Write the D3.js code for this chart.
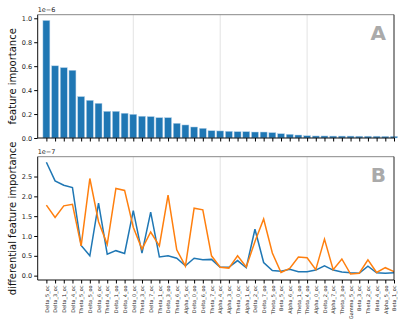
<!DOCTYPE html>
<html><head><meta charset="utf-8">
<script src="https://cdn.jsdelivr.net/npm/d3@7"></script>
<style>body{margin:0;background:#fff}svg{display:block}text{font-family:"DejaVu Sans",sans-serif}</style>
</head><body>
<svg id="c" width="404" height="329"></svg>
<script>
const categories = ["Delta_5_oc","Delta_3_oc","Delta_1_oc","Delta_4_oc","Theta_5_oc","Delta_5_oo","Delta_6_oc","Theta_4_oc","Delta_1_oo","Delta_4_oo","Delta_0_oc","Theta_3_oc","Delta_7_oc","Theta_1_oc","Delta_3_oo","Theta_6_oc","Alpha_5_oc","Delta_0_oo","Delta_6_oo","Theta_7_oc","Alpha_4_oc","Alpha_3_oc","Theta_0_oc","Alpha_1_oc","Delta_2_oc","Delta_7_oo","Theta_5_oo","Beta_5_oc","Alpha_6_oc","Theta_1_oo","Theta_4_oo","Alpha_0_oc","Delta_2_oo","Alpha_7_oc","Theta_3_oo","Gamma_5_oc","Beta_3_oc","Theta_2_oc","Beta_4_oc","Alpha_5_oo","Beta_1_oc"];
// feature importance (x 1e-6)
const importance = [0.982,0.603,0.588,0.566,0.346,0.315,0.290,0.223,0.223,0.207,0.198,0.182,0.179,0.170,0.170,0.123,0.109,0.092,0.081,0.061,0.059,0.056,0.053,0.053,0.050,0.050,0.045,0.036,0.031,0.025,0.019,0.017,0.017,0.016,0.016,0.016,0.015,0.015,0.015,0.014,0.014];
// differential feature importance (x 1e-7)
const diffBlue = [2.86,2.39,2.28,2.22,0.76,0.50,1.83,0.54,0.63,0.56,1.64,0.57,1.60,0.47,0.50,0.44,0.25,0.44,0.40,0.41,0.21,0.21,0.38,0.20,1.17,0.33,0.13,0.11,0.16,0.10,0.10,0.14,0.25,0.14,0.09,0.07,0.06,0.24,0.07,0.06,0.07];
const diffOrange = [1.78,1.47,1.76,1.80,0.75,2.45,1.36,0.79,2.20,2.15,1.22,0.67,1.10,0.75,2.03,0.65,0.24,1.70,1.66,0.50,0.21,0.19,0.50,0.22,0.86,1.43,0.57,0.08,0.18,0.47,0.45,0.15,0.92,0.15,0.42,0.04,0.06,0.40,0.08,0.20,0.10];
const topTicks = [0.0,0.2,0.4,0.6,0.8,1.0];
const botTicks = [0.0,0.5,1.0,1.5,2.0,2.5];
const gridIdx = [10,20,30];

const svg = d3.select("#c");
const L = 37.7, R = 394;
const x = d3.scaleLinear().domain([-1, 40]).range([L, R]);
const idx = d3.range(categories.length);

const panels = [
  {top:14.7, bot:138, y:d3.scaleLinear().domain([0,1.03]).range([138,14.7]), ticks:topTicks, fmt:d3.format(".1f"), off:"1e\u22126", letter:"A", label:"feature importance"},
  {top:156.7, bot:280, y:d3.scaleLinear().domain([-0.11,3.0]).range([280,156.7]), ticks:botTicks, fmt:d3.format(".1f"), off:"1e\u22127", letter:"B", label:"differential feature importance"}
];

panels.forEach((p,pi)=>{
  const g = svg.append("g");
  g.selectAll(".grid").data(gridIdx).join("line")
    .attr("x1",d=>x(d)).attr("x2",d=>x(d)).attr("y1",p.top).attr("y2",p.bot)
    .attr("stroke","#dcdcdc").attr("stroke-width",0.8);
  if(pi===0){
    g.selectAll("rect").data(idx).join("rect")
      .attr("x",i=>x(i-0.4)).attr("width",x(0.8)-x(0))
      .attr("y",i=>p.y(importance[i])).attr("height",i=>p.y(0)-p.y(importance[i]))
      .attr("fill","#1f77b4").attr("stroke","#b8d3ea").attr("stroke-width",0.5);
  } else {
    const line = d3.line().x((d,i)=>x(i)).y(d=>p.y(d));
    g.append("path").datum(diffBlue).attr("d",line).attr("fill","none").attr("stroke","#1f77b4").attr("stroke-width",1.5);
    g.append("path").datum(diffOrange).attr("d",line).attr("fill","none").attr("stroke","#ff7f0e").attr("stroke-width",1.5);
  }
  g.append("line").attr("x1",L).attr("x2",R).attr("y1",p.top).attr("y2",p.top).attr("stroke","#888").attr("stroke-width",1);
  g.append("line").attr("x1",R).attr("x2",R).attr("y1",p.top).attr("y2",p.bot).attr("stroke","#222").attr("stroke-width",1);
  const yAxis = d3.axisLeft(p.y).tickValues(p.ticks).tickFormat(p.fmt).tickSize(3.5).tickPadding(2);
  const ya = g.append("g").attr("transform",`translate(${L},0)`).call(yAxis);
  ya.select(".domain").attr("d",`M0,${p.top}V${p.bot}`).attr("stroke","#111");
  ya.selectAll("text").attr("font-size",6.5).attr("fill","#222");
  const xAxis = d3.axisBottom(x).tickValues(idx).tickFormat(i=>pi===1?categories[i]:"").tickSize(3.5).tickPadding(2);
  const xa = g.append("g").attr("transform",`translate(0,${p.bot})`).call(xAxis);
  xa.select(".domain").attr("d",`M${L},0H${R}`).attr("stroke","#111");
  if(pi===1){
    xa.selectAll("text").attr("font-size",5).attr("fill","#222")
      .attr("transform","rotate(-90)").attr("text-anchor","end")
      .attr("x",-5.5).attr("y",0).attr("dy","0.35em");
  }
  g.append("text").attr("x",L).attr("y",p.top-3).attr("font-size",6.5).attr("fill","#222").text(p.off);
  g.append("text").attr("x",386).attr("y",p.top+25).attr("text-anchor","end")
    .attr("font-size",20).attr("font-weight","bold").attr("fill","#aaaaaa").text(p.letter);
  g.append("text").attr("transform",`translate(15.5,${(p.top+p.bot)/2}) rotate(-90)`)
    .attr("text-anchor","middle").attr("font-size",10).attr("fill","#111").text(p.label);
});
</script>
</body></html>
